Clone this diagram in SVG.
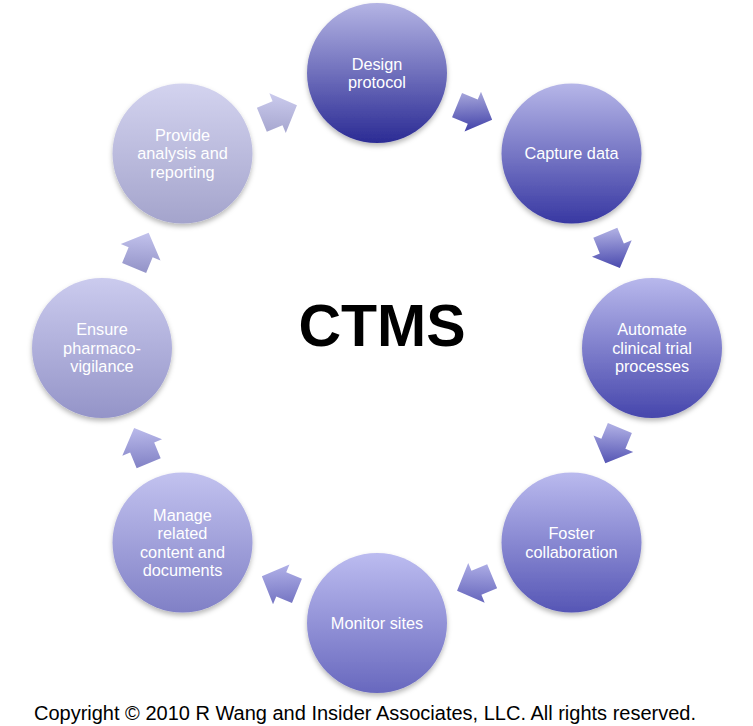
<svg xmlns="http://www.w3.org/2000/svg" width="753" height="726" viewBox="0 0 753 726">
<defs>
<style>
.lbl{font-family:"Liberation Sans",Arial,sans-serif;font-size:16.3px;fill:#ffffff;text-anchor:middle}
.node circle{filter:url(#sh)}
</style>
<filter id="sh" x="-20%" y="-20%" width="140%" height="150%">
<feDropShadow dx="0" dy="3" stdDeviation="2.5" flood-color="#000" flood-opacity="0.28"/>
</filter>
<linearGradient id="n0" x1="0" y1="0" x2="0" y2="1"><stop offset="0" stop-color="#b4b4e4"/><stop offset="1" stop-color="#2b2b94"/></linearGradient>
<linearGradient id="n1" x1="0" y1="0" x2="0" y2="1"><stop offset="0" stop-color="#b6b6e8"/><stop offset="1" stop-color="#3838a2"/></linearGradient>
<linearGradient id="n2" x1="0" y1="0" x2="0" y2="1"><stop offset="0" stop-color="#b8b8ec"/><stop offset="1" stop-color="#4646ac"/></linearGradient>
<linearGradient id="n3" x1="0" y1="0" x2="0" y2="1"><stop offset="0" stop-color="#babaee"/><stop offset="1" stop-color="#5656b5"/></linearGradient>
<linearGradient id="n4" x1="0" y1="0" x2="0" y2="1"><stop offset="0" stop-color="#bcbcf0"/><stop offset="1" stop-color="#6868be"/></linearGradient>
<linearGradient id="n5" x1="0" y1="0" x2="0" y2="1"><stop offset="0" stop-color="#c2c2ef"/><stop offset="1" stop-color="#8080c6"/></linearGradient>
<linearGradient id="n6" x1="0" y1="0" x2="0" y2="1"><stop offset="0" stop-color="#cbcbee"/><stop offset="1" stop-color="#9494c8"/></linearGradient>
<linearGradient id="n7" x1="0" y1="0" x2="0" y2="1"><stop offset="0" stop-color="#d3d3ef"/><stop offset="1" stop-color="#a4a4cc"/></linearGradient>
<linearGradient id="a0" x1="0.5" y1="0" x2="0.5" y2="1" gradientTransform="rotate(-22.5 .5 .5)"><stop offset="0" stop-color="#a8a8dc"/><stop offset="1" stop-color="#3c3ca6"/></linearGradient>
<linearGradient id="a1" x1="0.5" y1="0" x2="0.5" y2="1" gradientTransform="rotate(-67.5 .5 .5)"><stop offset="0" stop-color="#aaaae0"/><stop offset="1" stop-color="#4646ac"/></linearGradient>
<linearGradient id="a2" x1="0.5" y1="0" x2="0.5" y2="1" gradientTransform="rotate(-112.5 .5 .5)"><stop offset="0" stop-color="#ababe2"/><stop offset="1" stop-color="#5252b2"/></linearGradient>
<linearGradient id="a3" x1="0.5" y1="0" x2="0.5" y2="1" gradientTransform="rotate(-157.5 .5 .5)"><stop offset="0" stop-color="#aeaee6"/><stop offset="1" stop-color="#6262ba"/></linearGradient>
<linearGradient id="a4" x1="0.5" y1="0" x2="0.5" y2="1" gradientTransform="rotate(-202.5 .5 .5)"><stop offset="0" stop-color="#b4b4ea"/><stop offset="1" stop-color="#7474c2"/></linearGradient>
<linearGradient id="a5" x1="0.5" y1="0" x2="0.5" y2="1" gradientTransform="rotate(-247.5 .5 .5)"><stop offset="0" stop-color="#bcbcec"/><stop offset="1" stop-color="#8686c8"/></linearGradient>
<linearGradient id="a6" x1="0.5" y1="0" x2="0.5" y2="1" gradientTransform="rotate(-292.5 .5 .5)"><stop offset="0" stop-color="#c4c4ee"/><stop offset="1" stop-color="#9696ca"/></linearGradient>
<linearGradient id="a7" x1="0.5" y1="0" x2="0.5" y2="1" gradientTransform="rotate(-337.5 .5 .5)"><stop offset="0" stop-color="#cdcdef"/><stop offset="1" stop-color="#a6a6cf"/></linearGradient>
<polygon id="arr" points="-19,-13 -2,-13 -2,-21.5 19,0 -2,21.5 -2,13 -19,13"/>
</defs>
<rect width="753" height="726" fill="#ffffff"/>
<g id="connectors">
<use href="#arr" fill="url(#a0)" transform="translate(474.6,112.4) rotate(22.5)"/>
<use href="#arr" fill="url(#a1)" transform="translate(612.6,250.4) rotate(67.5)"/>
<use href="#arr" fill="url(#a2)" transform="translate(612.6,445.6) rotate(112.5)"/>
<use href="#arr" fill="url(#a3)" transform="translate(474.6,583.6) rotate(157.5)"/>
<use href="#arr" fill="url(#a4)" transform="translate(279.4,583.6) rotate(202.5)"/>
<use href="#arr" fill="url(#a5)" transform="translate(141.4,445.6) rotate(247.5)"/>
<use href="#arr" fill="url(#a6)" transform="translate(141.4,250.4) rotate(292.5)"/>
<use href="#arr" fill="url(#a7)" transform="translate(279.4,112.4) rotate(337.5)"/>
</g>
<g id="node-design" class="node"><circle cx="377" cy="73" r="70" fill="url(#n0)"/>
<text class="lbl" x="377" y="69.5">Design</text><text class="lbl" x="377" y="88">protocol</text></g>
<g id="node-capture" class="node"><circle cx="571.5" cy="153.5" r="70" fill="url(#n1)"/>
<text class="lbl" x="571.5" y="159.3">Capture data</text></g>
<g id="node-automate" class="node"><circle cx="652" cy="348" r="70" fill="url(#n2)"/>
<text class="lbl" x="652" y="335.3">Automate</text><text class="lbl" x="652" y="353.8">clinical trial</text><text class="lbl" x="652" y="372.3">processes</text></g>
<g id="node-foster" class="node"><circle cx="571.5" cy="542.5" r="70" fill="url(#n3)"/>
<text class="lbl" x="571.5" y="539">Foster</text><text class="lbl" x="571.5" y="557.5">collaboration</text></g>
<g id="node-monitor" class="node"><circle cx="377" cy="623" r="70" fill="url(#n4)"/>
<text class="lbl" x="377" y="628.8">Monitor sites</text></g>
<g id="node-manage" class="node"><circle cx="182.5" cy="542.5" r="70" fill="url(#n5)"/>
<text class="lbl" x="182.5" y="520.5">Manage</text><text class="lbl" x="182.5" y="539">related</text><text class="lbl" x="182.5" y="557.5">content and</text><text class="lbl" x="182.5" y="576">documents</text></g>
<g id="node-ensure" class="node"><circle cx="102" cy="348" r="70" fill="url(#n6)"/>
<text class="lbl" x="102" y="335.3">Ensure</text><text class="lbl" x="102" y="353.8">pharmaco-</text><text class="lbl" x="102" y="372.3">vigilance</text></g>
<g id="node-provide" class="node"><circle cx="182.5" cy="153.5" r="70" fill="url(#n7)"/>
<text class="lbl" x="182.5" y="140.8">Provide</text><text class="lbl" x="182.5" y="159.3">analysis and</text><text class="lbl" x="182.5" y="177.8">reporting</text></g>
<g id="title"><text x="382" y="346" font-family="'Liberation Sans',Arial,sans-serif" font-size="59" font-weight="bold" fill="#000" text-anchor="middle">CTMS</text></g>
<text x="365" y="720" font-family="'Liberation Sans',Arial,sans-serif" font-size="20" fill="#000" text-anchor="middle">Copyright © 2010 R Wang and Insider Associates, LLC. All rights reserved.</text>
</svg>
